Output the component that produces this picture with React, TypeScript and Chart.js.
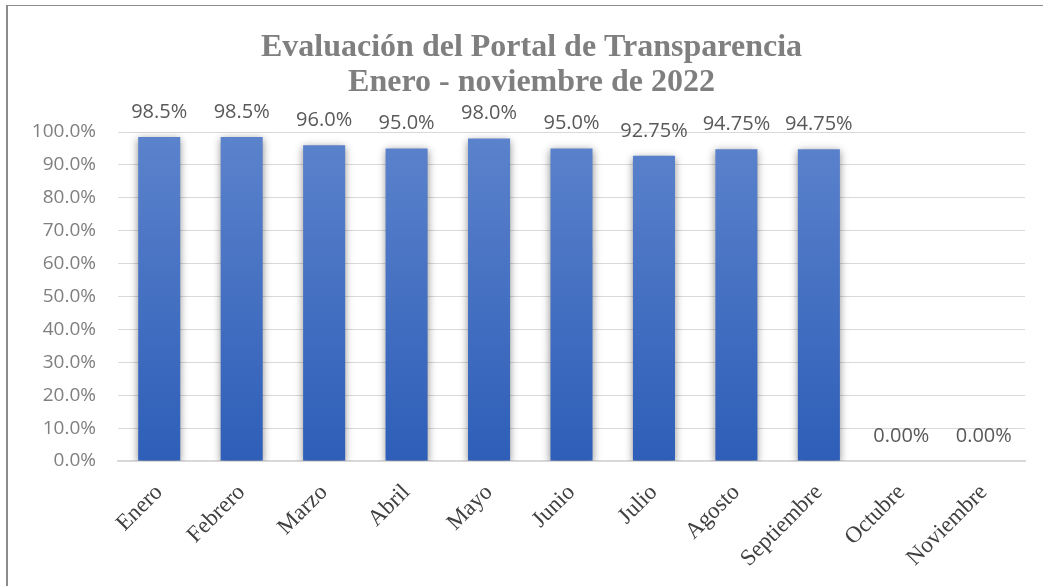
import React, { useEffect, useRef } from "react";
import { Chart, registerables } from "chart.js";

Chart.register(...registerables);

const categories = [
  "Enero",
  "Febrero",
  "Marzo",
  "Abril",
  "Mayo",
  "Junio",
  "Julio",
  "Agosto",
  "Septiembre",
  "Octubre",
  "Noviembre",
];
const values = [98.5, 98.5, 96.0, 95.0, 98.0, 95.0, 92.75, 94.75, 94.75, 0, 0];
const valueLabels = [
  "98.5%",
  "98.5%",
  "96.0%",
  "95.0%",
  "98.0%",
  "95.0%",
  "92.75%",
  "94.75%",
  "94.75%",
  "0.00%",
  "0.00%",
];
const titleLines = ["Evaluación del Portal de Transparencia", "Enero - noviembre de 2022"];

const shadowPlugin = {
  id: "barShadow",
  beforeDatasetsDraw(chart: any) {
    const ctx = chart.ctx;
    ctx.save();
    ctx.shadowColor = "rgba(0,0,0,0.45)";
    ctx.shadowBlur = 8;
    ctx.shadowOffsetX = 0;
    ctx.shadowOffsetY = 2;
  },
  afterDatasetsDraw(chart: any) {
    chart.ctx.restore();
  },
};

const titlePlugin = {
  id: "customTitle",
  afterDraw(chart: any) {
    const ctx = chart.ctx;
    ctx.save();
    ctx.font = 'bold 32px "Liberation Serif"';
    ctx.fillStyle = "#7f7f7f";
    ctx.textAlign = "center";
    ctx.textBaseline = "alphabetic";
    const cx = chart.width / 2 + 10;
    titleLines.forEach((line, i) => {
      ctx.fillText(line, cx, 56 + i * 35);
    });
    ctx.restore();
  },
};

const labelPlugin = {
  id: "valueLabels",
  afterDraw(chart: any) {
    const ctx = chart.ctx;
    const meta = chart.getDatasetMeta(0);
    ctx.save();
    ctx.font = '20px "Open Sans"';
    ctx.fillStyle = "#595959";
    ctx.textAlign = "center";
    ctx.textBaseline = "middle";
    meta.data.forEach((bar: any, i: number) => {
      ctx.fillText(valueLabels[i], bar.x, bar.y - 25);
    });
    ctx.restore();
  },
};

export default function App() {
  const ref = useRef<HTMLCanvasElement | null>(null);

  useEffect(() => {
    if (!ref.current) return;
    const chart = new Chart(ref.current, {
      type: "bar",
      data: {
        labels: categories,
        datasets: [
          {
            data: values,
            backgroundColor: (c: any) => {
              const area = c.chart.chartArea;
              if (!area) return "#4472c4";
              const g = c.chart.ctx.createLinearGradient(0, area.bottom, 0, area.top);
              g.addColorStop(0, "rgb(46,94,184)");
              g.addColorStop(1, "rgb(92,131,204)");
              return g;
            },
            barPercentage: 0.51,
            categoryPercentage: 1,
          },
        ],
      },
      options: {
        animation: false,
        responsive: false,
        maintainAspectRatio: false,
        layout: { padding: { left: 0, right: 18, top: 132, bottom: 0 } },
        plugins: {
          legend: { display: false },
          tooltip: { enabled: false },
          title: { display: false },
        },
        scales: {
          x: {
            grid: { display: false, drawTicks: false },
            border: { display: true, color: "#d9d9d9", width: 2 },
            ticks: {
              autoSkip: false,
              minRotation: 45,
              maxRotation: 45,
              padding: 18,
              color: "#404040",
              font: { family: '"Liberation Serif"', size: 23 },
            },
            afterFit: (s: any) => {
              s.height = 125;
            },
          },
          y: {
            min: 0,
            max: 100,
            grid: { color: "#d9d9d9", lineWidth: 1, drawTicks: false },
            border: { display: false },
            ticks: {
              stepSize: 10,
              padding: 22,
              color: "#7f7f7f",
              font: { family: '"Open Sans"', size: 19 },
              callback: (v: any) => Number(v).toFixed(1) + "%",
            },
            afterFit: (s: any) => {
              s.width = 118;
            },
          },
        },
      },
      plugins: [shadowPlugin, titlePlugin, labelPlugin],
    });
    return () => chart.destroy();
  }, []);

  return (
    <div style={{ position: "fixed", left: 0, top: 0, width: 1043, height: 586, background: "#fff" }}>
      <div
        style={{
          position: "absolute",
          left: 6,
          top: 5,
          width: 1037,
          height: 581,
          borderTop: "1px solid #8c8c8c",
          borderLeft: "2px solid #8c8c8c",
          boxSizing: "border-box",
        }}
      />
      <canvas ref={ref} width={1043} height={586} style={{ position: "absolute", left: 0, top: 0 }} />
    </div>
  );
}
